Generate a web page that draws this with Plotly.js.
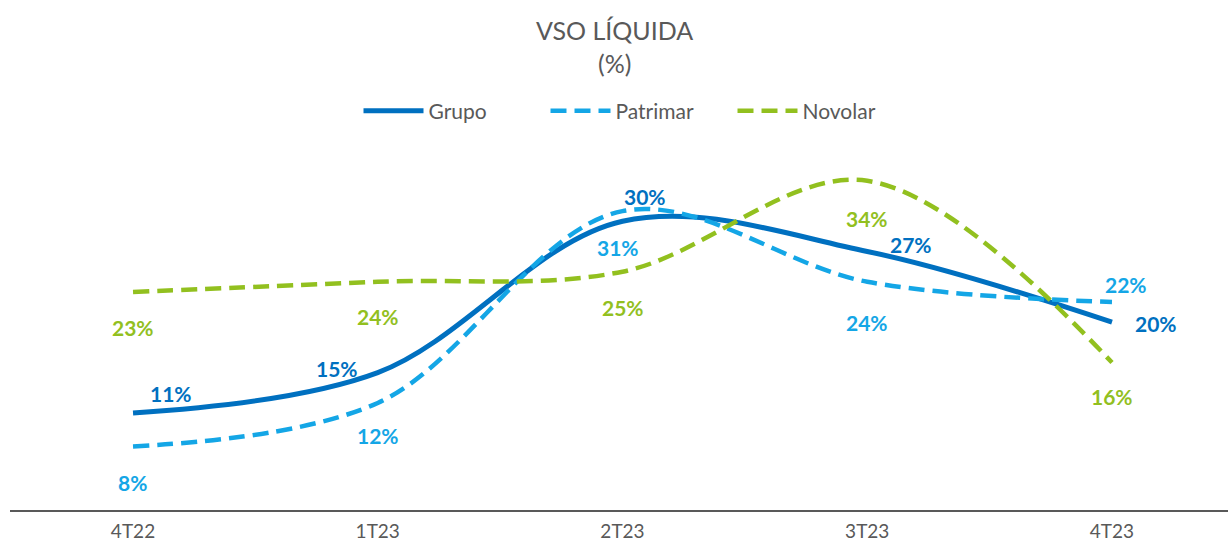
<!DOCTYPE html>
<html>
<head>
<meta charset="utf-8">
<script src="https://cdn.plot.ly/plotly-3.0.1.min.js"></script>
<style>html,body{margin:0;padding:0;background:#fff;}#chart{width:1228px;height:549px;}</style>
</head>
<body>
<div id="chart"></div>
<script>
// ---- data ----
const quarters = ["4T22", "1T23", "2T23", "3T23", "4T23"];
const grupo    = [11, 15, 30, 27, 20];
const patrimar = [7.7, 12, 31, 24, 22];
const novolar  = [23, 24, 25, 34, 16];
const seriesNames = ["Grupo", "Patrimar", "Novolar"];
const titleLines = ["VSO LÍQUIDA", "(%)"];

// ---- styles ----
const colors = {Grupo: "#0070C0", Patrimar: "#14A6E6", Novolar: "#92C01F"};
const labelOffsets = {
  Grupo:    [[38,-20],[-41,-4],[22,-25],[44,-7],[44,1]],
  Patrimar: [[-1,36],[0,33],[-5,36],[0,41],[14,-17]],
  Novolar:  [[0,36],[0,35],[0,36],[0,38],[0,34]]
};
const FONT = "Lato, 'Open Sans', sans-serif";
const GREY = "#595959";

const seriesData = {Grupo: grupo, Patrimar: patrimar, Novolar: novolar};
const traces = seriesNames.map(name => ({
  type: "scatter",
  mode: "lines",
  name: name,
  x: quarters,
  y: seriesData[name],
  line: {
    color: colors[name],
    width: name === "Grupo" ? 5 : 4.5,
    shape: "spline",
    smoothing: 1,
    dash: name === "Grupo" ? "solid" : "16px,8px"
  },
  hoverinfo: "skip"
}));

const annotations = [];
seriesNames.forEach(name => {
  seriesData[name].forEach((v, i) => {
    const off = labelOffsets[name][i];
    annotations.push({
      x: quarters[i], y: v, xref: "x", yref: "y",
      text: Math.round(v) + "%",
      showarrow: false,
      xshift: off[0], yshift: -off[1],
      font: {family: FONT, size: 21, color: colors[name], weight: 700}
    });
  });
});
// title lines (two centred lines)
const titleY = [30, 63];
titleLines.forEach((t, i) => {
  annotations.push({
    xref: "paper", yref: "paper", x: 0.5 - 5/1218, y: 1, yanchor: "middle",
    yshift: 140 - titleY[i],
    text: t, showarrow: false,
    font: {family: FONT, size: 25, color: GREY}
  });
});

const layout = {
  width: 1228, height: 549,
  paper_bgcolor: "#ffffff", plot_bgcolor: "#ffffff",
  margin: {l: 10, r: 0, t: 140, b: 39},
  showlegend: true,
  legend: {
    orientation: "h", x: 0.5 + 20/1218, xanchor: "center", y: 1 + 29/370, yanchor: "middle",
    yref: "paper",
    font: {family: FONT, size: 21, color: GREY},
    entrywidth: 112, entrywidthmode: "pixels",
    itemwidth: 60, tracegroupgap: 0
  },
  xaxis: {
    type: "category",
    range: [-0.5026, 4.474],
    showgrid: false, zeroline: false,
    showline: true, linecolor: GREY, linewidth: 1.5,
    ticks: "", ticklabelstandoff: 4,
    tickfont: {family: FONT, size: 19, color: GREY},
    fixedrange: true
  },
  yaxis: {
    range: [1.4, 38.04],
    showgrid: false, zeroline: false, showline: false,
    showticklabels: false, ticks: "",
    fixedrange: true
  },
  annotations: annotations,
  font: {family: FONT}
};

Plotly.newPlot("chart", traces, layout, {staticPlot: true, displayModeBar: false});
</script>
</body>
</html>
